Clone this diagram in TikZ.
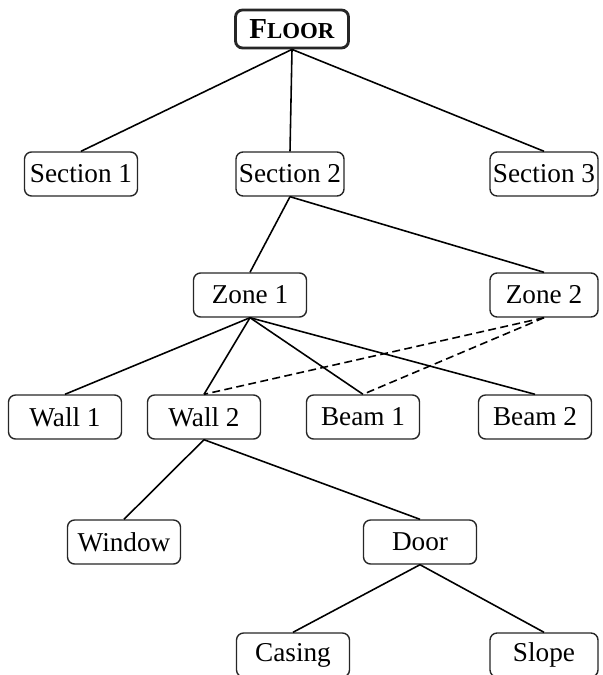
\documentclass[tikz,border=0pt]{standalone}
\usepackage{fontspec}
\setmainfont{Liberation Serif}

\begin{document}
\begin{tikzpicture}[x=0.02cm, y=-0.02cm,
        box/.style={draw=black!85, line width=0.8pt, rounded corners=4pt, fill=white,
            minimum width=2.26cm, minimum height=0.88cm, inner sep=0pt, font=\fontsize{15.5}{17}\selectfont},
        rootbox/.style={box, line width=1.6pt, minimum height=0.76cm},
        link/.style={line width=0.9pt},
        looselink/.style={link, dash pattern=on 4.5pt off 2.5pt}]
    \useasboundingbox (0,0) rectangle (602,675);

    % levels of the tree
    \node[rootbox] (floor) at (292,29) {\textbf{\fontsize{16.5}{18}\selectfont F\fontsize{13}{15}\selectfont LOOR}};

    \node[box] (sec1) at (81,174) {Section 1};
    \node[box, minimum width=2.16cm] (sec2) at (290,174) {Section 2};
    \node[box, minimum width=2.16cm] (sec3) at (544,174) {Section 3};

    \node[box] (zone1) at (250,295) {Zone 1};
    \node[box, minimum width=2.16cm] (zone2) at (544,295) {Zone 2};

    \node[box] (wall1) at (65,417) {Wall 1};
    \node[box] (wall2) at (204,417) {Wall 2};
    \node[box] (beam1) at (363,417) {Beam 1};
    \node[box] (beam2) at (535,417) {Beam 2};

    \node[box] (window) at (124,542) {Window};
    \node[box] (door) at (420,542) {Door};

    \node[box] (casing) at (293,655) {Casing};
    \node[box, minimum width=2.16cm] (slope) at (544,655) {Slope};

    % connectors
    \draw[link] (floor.south) -- (sec1.north);
    \draw[link] (floor.south) -- (sec2.north);
    \draw[link] (floor.south) -- (sec3.north);
    \draw[link] (sec2.south) -- (zone1.north);
    \draw[link] (sec2.south) -- (zone2.north);
    \draw[link] (zone1.south) -- (wall1.north);
    \draw[link] (zone1.south) -- (wall2.north);
    \draw[link] (zone1.south) -- (beam1.north);
    \draw[link] (zone1.south) -- (beam2.north);
    \draw[looselink] (zone2.south) -- (wall2.north);
    \draw[looselink] (zone2.south) -- (beam1.north);
    \draw[link] (wall2.south) -- (window.north);
    \draw[link] (wall2.south) -- (door.north);
    \draw[link] (door.south) -- (casing.north);
    \draw[link] (door.south) -- (slope.north);
\end{tikzpicture}
\end{document}
